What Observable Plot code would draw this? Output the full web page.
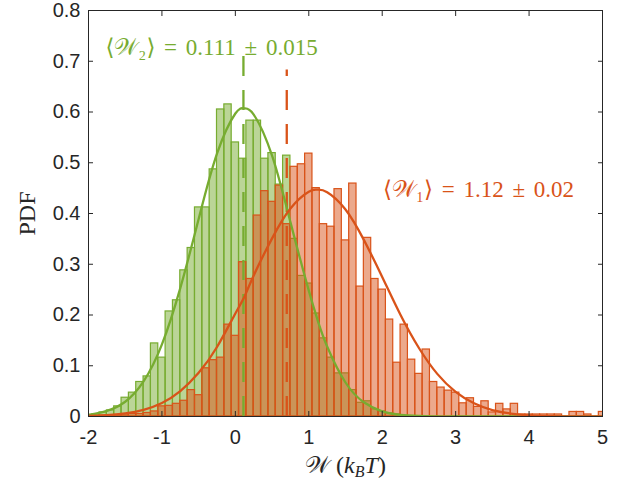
<!DOCTYPE html>
<html><head><meta charset="utf-8">
<script src="https://cdn.jsdelivr.net/npm/d3@7"></script>
<script src="https://cdn.jsdelivr.net/npm/@observablehq/plot@0.6"></script>
<style>body{margin:0;background:#fff}svg{display:block}</style>
</head><body><div id="chart"></div>
<script>
// ---- data ----
const binWidth = 0.1;
const W2_bins = [-2.0,-1.9,-1.8,-1.7,-1.6,-1.5,-1.4,-1.3,-1.2,-1.1,-1.0,-0.9,-0.8,-0.7,-0.6,-0.5,-0.4,-0.3,-0.2,-0.1,0.0,0.1,0.2,0.3,0.4,0.5,0.6,0.7,0.8,0.9,1.0,1.1,1.2,1.3,1.4,1.5,1.6,1.7,1.8,1.9,2.0,2.1,2.2];
const W2_pdf  = [0.003,0.004,0.008,0.012,0.020,0.037,0.047,0.068,0.079,0.144,0.116,0.207,0.229,0.288,0.332,0.412,0.412,0.487,0.605,0.615,0.540,0.508,0.583,0.583,0.508,0.519,0.457,0.514,0.350,0.277,0.262,0.203,0.154,0.116,0.085,0.085,0.052,0.027,0.030,0.014,0.010,0.006,0.004];
const W1_bins = [-1.9,-1.8,-1.7,-1.6,-1.5,-1.4,-1.3,-1.2,-1.1,-1.0,-0.9,-0.8,-0.7,-0.6,-0.5,-0.4,-0.3,-0.2,-0.1,0.0,0.1,0.2,0.3,0.4,0.5,0.6,0.7,0.8,0.9,1.0,1.1,1.2,1.3,1.4,1.5,1.6,1.7,1.8,1.9,2.0,2.1,2.2,2.3,2.4,2.5,2.6,2.7,2.8,2.9,3.0,3.1,3.2,3.3,3.4,3.5,3.6,3.7,3.8,3.9,4.0,4.1,4.2,4.3,4.4,4.5,4.6,4.7,4.8,4.9,5.0];
const W1_pdf  = [0.001,0.002,0.002,0.003,0.004,0.005,0.005,0.007,0.010,0.020,0.021,0.025,0.031,0.052,0.042,0.095,0.111,0.116,0.181,0.159,0.304,0.271,0.396,0.444,0.423,0.455,0.379,0.492,0.497,0.518,0.450,0.379,0.374,0.448,0.347,0.459,0.256,0.352,0.271,0.250,0.191,0.106,0.181,0.112,0.084,0.132,0.068,0.057,0.051,0.047,0.026,0.036,0.019,0.030,0.008,0.025,0.014,0.025,0.004,0.004,0.004,0.004,0.004,0.004,0,0.009,0.009,0.004,0,0.009];
const fitX   = [-2,-1.75,-1.5,-1.25,-1,-0.75,-0.5,-0.25,0,0.12,0.25,0.5,0.75,1,1.12,1.25,1.5,1.75,2,2.25,2.5,2.75,3,3.25,3.5,3.75,4,4.25,4.5,4.75,5];
const W2_fit = [0.003,0.011,0.029,0.069,0.142,0.253,0.389,0.518,0.597,0.607,0.595,0.514,0.383,0.248,0.190,0.138,0.067,0.028,0.010,0.003,0.001,0,0,0,0,0,0,0,0,0,0];
const W1_fit = [0.001,0.0025,0.006,0.013,0.0265,0.050,0.086,0.137,0.203,0.235,0.278,0.351,0.410,0.443,0.447,0.442,0.408,0.348,0.275,0.200,0.135,0.084,0.0485,0.026,0.0127,0.0058,0.0024,0.0009,0.0003,0.0001,0];
const meanX   = [0.11, 0.70];
const meanTop = [0.735, 0.683];
const xTicks = [-2,-1,0,1,2,3,4,5];
const yTicks = [0,0.1,0.2,0.3,0.4,0.5,0.6,0.7,0.8];
const annX = [-1.77, 2.01];
const annY = [0.712, 0.433];
const annText = ["⟨𝒲₂⟩ = 0.111 ± 0.015", "⟨𝒲₁⟩ = 1.12 ± 0.02"];

const green = "#77AC30", orange = "#D95319", axisC = "#262626";
const bars = (bins, pdf) => bins.map((c, i) => ({x1: c - binWidth/2, x2: c + binWidth/2, y: pdf[i]}));
const fit = (ys) => fitX.map((x, i) => ({x, y: ys[i]}));
const means = meanX.map((x, i) => ({x, top: meanTop[i], c: i === 0 ? green : orange}));
const anns = annText.map((t, i) => ({x: annX[i], y: annY[i], t, c: i === 0 ? green : orange}));

const chart = Plot.plot({
  width: 634, height: 485,
  marginLeft: 88, marginRight: 32, marginTop: 10, marginBottom: 69,
  style: {fontFamily: "'Liberation Sans', Arial, sans-serif", fontSize: "20px", color: axisC, background: "#fff", overflow: "visible"},
  x: {domain: [-2, 5]},
  y: {domain: [0, 0.8]},
  marks: [
    Plot.rectY(bars(W2_bins, W2_pdf), {x1: "x1", x2: "x2", y: "y", fill: green, fillOpacity: 0.5, stroke: green, strokeWidth: 1.2, clip: true}),
    Plot.rectY(bars(W1_bins, W1_pdf), {x1: "x1", x2: "x2", y: "y", fill: orange, fillOpacity: 0.5, stroke: orange, strokeWidth: 1.2, clip: true}),
    Plot.ruleX(means, {x: "x", y1: 0, y2: "top", stroke: "c", strokeWidth: 2.3, strokeDasharray: "20,14"}),
    Plot.line(fit(W2_fit), {x: "x", y: "y", stroke: green, strokeWidth: 2.3, curve: "natural", clip: true}),
    Plot.line(fit(W1_fit), {x: "x", y: "y", stroke: orange, strokeWidth: 2.3, curve: "natural", clip: true}),
    Plot.text(anns, {x: "x", y: "y", text: "t", fill: "c", textAnchor: "start", lineAnchor: "bottom", fontFamily: "'Liberation Serif', 'DejaVu Serif', serif", fontSize: 23}),
    Plot.frame({stroke: axisC, strokeWidth: 1}),
    Plot.axisX(xTicks, {anchor: "bottom", tickSize: -5, tickPadding: 18, stroke: axisC, tickFormat: d => String(d), label: "𝒲 (kBT)", labelAnchor: "center", labelArrow: "none", labelOffset: 56}),
    Plot.axisX(xTicks, {anchor: "top", tickSize: -5, tickFormat: () => "", stroke: axisC, label: null}),
    Plot.axisY(yTicks, {anchor: "left", tickSize: -5, tickPadding: 13, stroke: axisC, tickFormat: d => String(d), label: "PDF", labelAnchor: "center", labelArrow: "none", labelOffset: 71}),
    Plot.axisY(yTicks, {anchor: "right", tickSize: -5, tickFormat: () => "", stroke: axisC, label: null})
  ]
});
document.getElementById("chart").append(chart);

// typeset axis labels in a math-like serif with subscript
const svg = d3.select(chart);
svg.selectAll("g[aria-label='text'] text").style("word-spacing", "3px");
svg.selectAll("g[aria-label='x-axis label'] text").each(function() {
  const t = d3.select(this).text("");
  t.attr("font-family", "'Liberation Serif', 'DejaVu Serif', serif").attr("font-size", 24);
  t.append("tspan").text("𝒲 (");
  t.append("tspan").attr("font-style", "italic").text("k");
  t.append("tspan").attr("font-style", "italic").attr("font-size", 16).attr("dy", "0.3em").text("B");
  t.append("tspan").attr("font-style", "italic").attr("dy", "-0.2em").text("T");
  t.append("tspan").text(")");
});
svg.selectAll("g[aria-label='y-axis label'] text")
  .attr("font-family", "'Liberation Serif', 'DejaVu Serif', serif").attr("font-size", 24);
</script></body></html>
